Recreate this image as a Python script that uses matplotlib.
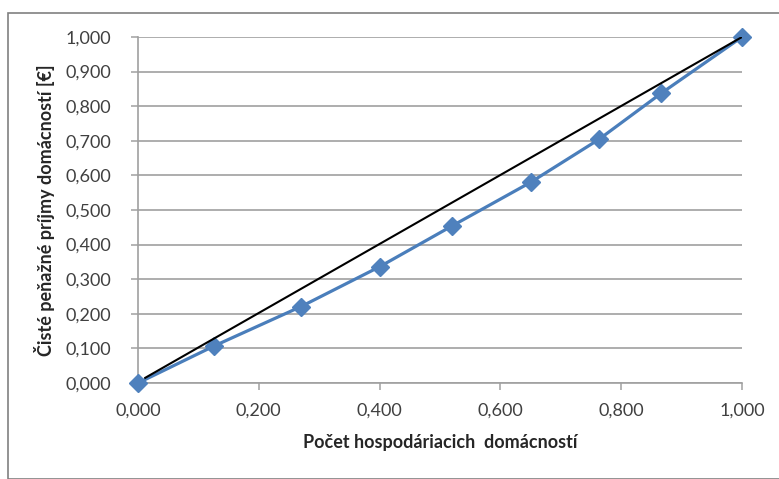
import matplotlib.pyplot as plt
from matplotlib.patches import Rectangle
from matplotlib.ticker import FuncFormatter, MultipleLocator

# Lorenzova krivka - kumulativne podiely
podiel_domacnosti = [0.0, 0.126, 0.27, 0.40, 0.52, 0.65, 0.763, 0.866, 1.0]
podiel_prijmov = [0.0, 0.107, 0.221, 0.336, 0.454, 0.580, 0.704, 0.837, 1.0]
rovnost_x = [0.012, 1.0]
rovnost_y = [0.015, 1.0]

plt.rcParams['font.family'] = ['Lato', 'DejaVu Sans']

fig = plt.figure(figsize=(7.79, 4.79), dpi=100)
fig.patches.append(Rectangle((8 / 779, 0), 1, 1 - 13 / 479, transform=fig.transFigure,
                             fill=False, edgecolor='#808080', linewidth=1.2))

ax = fig.add_axes([138 / 779, 1 - 383 / 479, 604 / 779, 346 / 479])
ax.plot(podiel_domacnosti, podiel_prijmov, color='#4a7ebb', linewidth=2.3,
        marker='D', markersize=9, markerfacecolor='#4f81bd', markeredgecolor='#4f81bd',
        zorder=3, clip_on=False)
ax.plot(rovnost_x, rovnost_y, color='black', linewidth=1.5, zorder=4)

ax.set_xlim(0, 1)
ax.set_ylim(0, 1)
ax.xaxis.set_major_locator(MultipleLocator(0.2))
ax.yaxis.set_major_locator(MultipleLocator(0.1))
fmt = FuncFormatter(lambda v, p: f"{v:.3f}".replace('.', ','))
ax.xaxis.set_major_formatter(fmt)
ax.yaxis.set_major_formatter(fmt)

ax.grid(axis='y', color='#a0a0a0', linewidth=1.2)
ax.set_axisbelow(True)
for s in ['top', 'right']:
    ax.spines[s].set_visible(False)
for s in ['left', 'bottom']:
    ax.spines[s].set_color('#a0a0a0')
    ax.spines[s].set_linewidth(1.2)
ax.tick_params(axis='both', colors='#a0a0a0', labelcolor='#404040', labelsize=13,
               length=5, width=1.1)
ax.tick_params(axis='y', pad=14)
ax.tick_params(axis='x', pad=9)

ax.set_xlabel('Počet hospodáriacich  domácností', fontsize=13, fontweight='bold',
              color='#262626', labelpad=11)
ax.set_ylabel('Čisté peňažné príjmy domácností [€]', fontsize=13, fontweight='bold',
              color='#262626', labelpad=8)

fig.savefig('out.png', dpi=100)
